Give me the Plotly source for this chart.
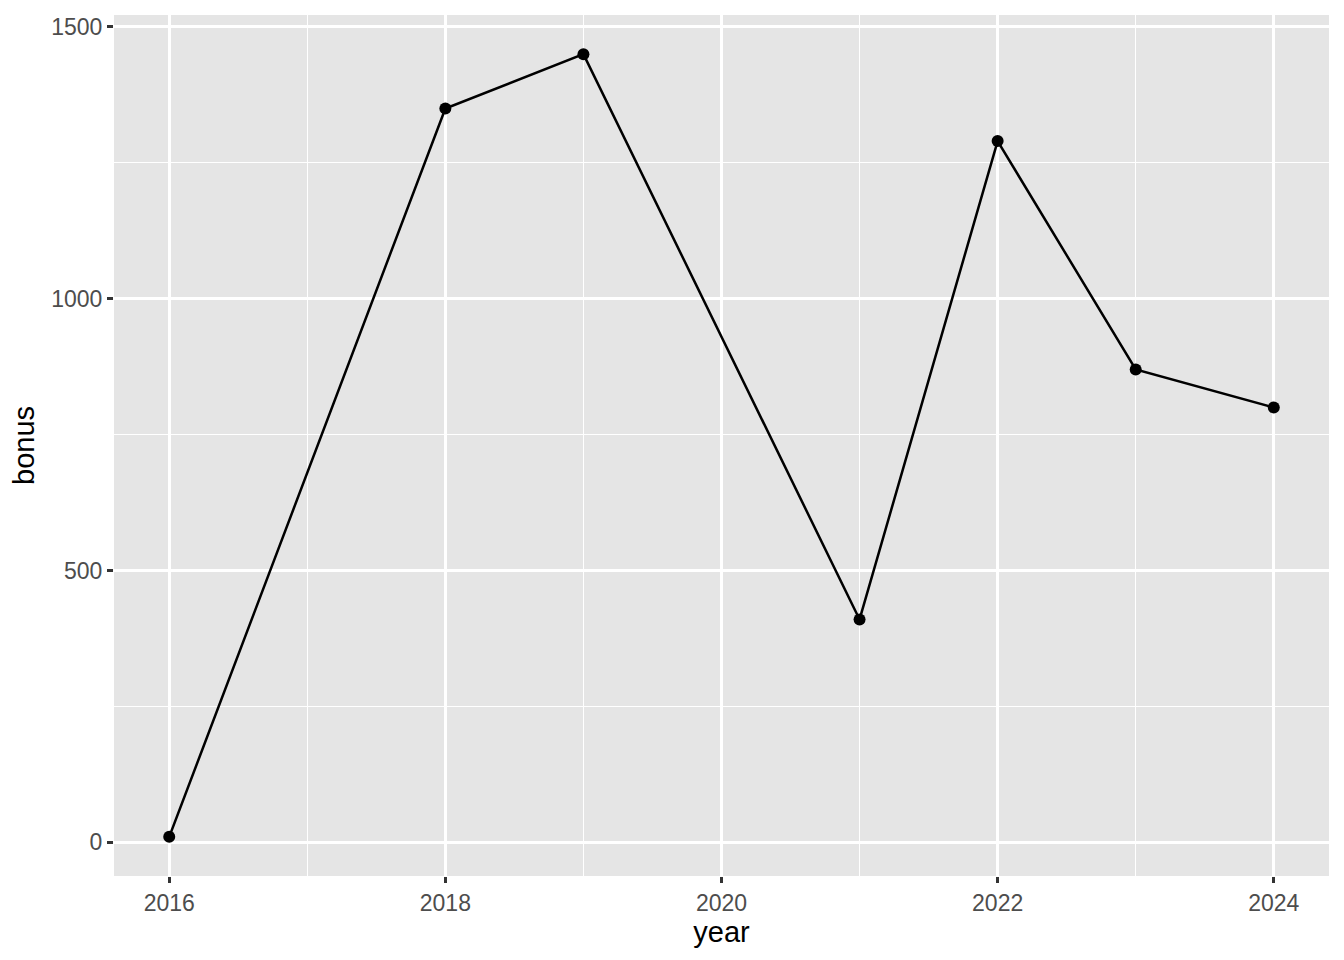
import plotly.graph_objects as go

years = [2016, 2018, 2019, 2021, 2022, 2023, 2024]
bonus = [10, 1350, 1450, 410, 1290, 870, 800]

x_ticks = [2016, 2018, 2020, 2022, 2024]
x_minor = [2017, 2019, 2021, 2023]
y_ticks = [0, 500, 1000, 1500]
y_minor = [250, 750, 1250]

FONT = "Liberation Sans, Arial, Helvetica, sans-serif"

fig = go.Figure()
fig.add_trace(go.Scatter(
    x=years, y=bonus, mode="lines+markers",
    line=dict(color="black", width=2.5),
    marker=dict(color="black", size=12),
    showlegend=False, hoverinfo="x+y",
))

axis_common = dict(
    showgrid=True, gridcolor="white", gridwidth=2.5,
    zeroline=False, showline=False,
    ticks="outside", ticklen=6, tickwidth=2.5, tickcolor="#333333",
    tickfont=dict(family=FONT, size=23, color="#4D4D4D"),
)

fig.update_layout(
    width=1336, height=952,
    margin=dict(l=106, r=15, t=7, b=84),
    paper_bgcolor="white", plot_bgcolor="#E5E5E5",
    font=dict(family=FONT),
    xaxis=dict(
        range=[2015.6, 2024.4], tickmode="array", tickvals=x_ticks,
        ticktext=[str(v) for v in x_ticks],
        title=dict(text="year", font=dict(size=29, color="black"), standoff=6),
        minor=dict(tickmode="array", tickvals=x_minor,
                   showgrid=True, gridcolor="white", gridwidth=1.3, ticks=""),
        **axis_common,
    ),
    yaxis=dict(
        range=[-62, 1522], tickmode="array", tickvals=y_ticks,
        ticktext=[str(v) for v in y_ticks],
        title=dict(text="bonus", font=dict(size=29, color="black"), standoff=14),
        minor=dict(tickmode="array", tickvals=y_minor,
                   showgrid=True, gridcolor="white", gridwidth=1.3, ticks=""),
        **axis_common,
    ),
)

fig.write_html("out.html")
